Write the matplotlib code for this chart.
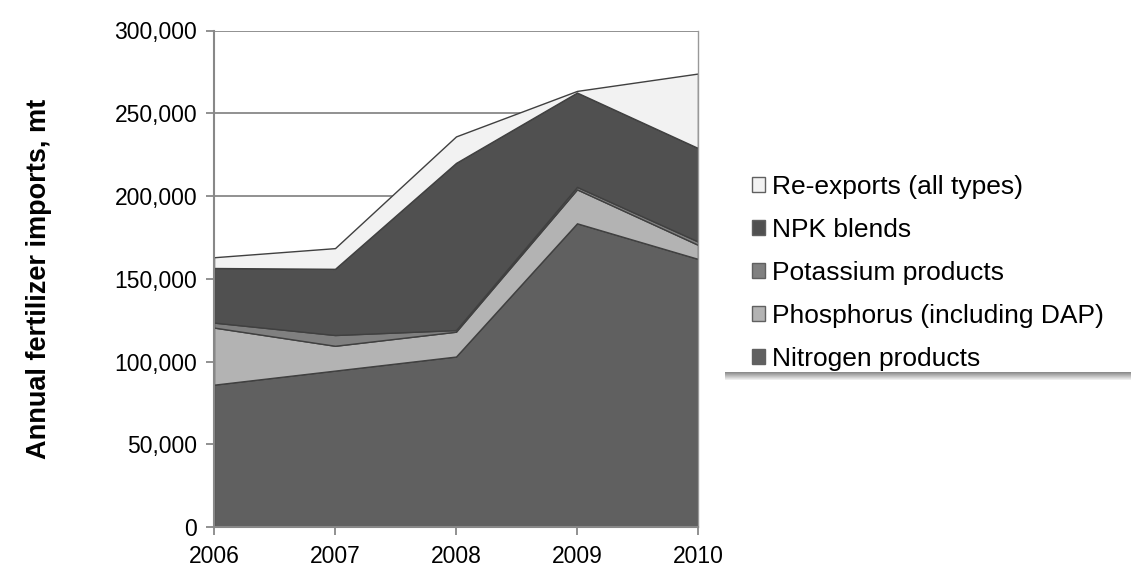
import matplotlib
matplotlib.use("Agg")
import matplotlib.pyplot as plt
from matplotlib.patches import Patch, Rectangle
from matplotlib.ticker import FuncFormatter

plt.rcParams['font.family'] = ['Liberation Sans', 'DejaVu Sans']

years = [2006, 2007, 2008, 2009, 2010]
nitrogen = [86000, 94500, 103000, 183500, 162000]
phosphorus = [34500, 15000, 15000, 20500, 8500]
potassium = [3000, 6500, 1000, 1500, 2000]
npk = [33000, 40000, 101000, 57000, 56500]
reexports = [6500, 12500, 16000, 1000, 45000]

labels = ['Nitrogen products', 'Phosphorus (including DAP)', 'Potassium products',
          'NPK blends', 'Re-exports (all types)']
colors = ['#606060', '#b3b3b3', '#808080', '#505050', '#f2f2f2']

W, H = 1131, 571
fig = plt.figure(figsize=(W / 100, H / 100), dpi=100)
ax = fig.add_axes([214 / W, 1 - 527 / H, (698 - 214) / W, (527 - 30.5) / H])

ax.stackplot(years, nitrogen, phosphorus, potassium, npk, reexports,
             colors=colors, edgecolor='#404040', linewidth=1.0, zorder=2)

ax.set_xlim(2006, 2010)
ax.set_ylim(0, 300000)
ax.set_xticks(years)
ax.set_yticks(range(0, 300001, 50000))
ax.yaxis.set_major_formatter(FuncFormatter(lambda v, p: f'{int(v):,}'))
ax.grid(axis='y', color='#888888', linewidth=1.3, zorder=0)
ax.set_axisbelow(True)

ax.spines['top'].set_visible(False)
ax.spines['right'].set_color('#999999')
ax.spines['right'].set_linewidth(1.0)
for side in ['left', 'bottom']:
    ax.spines[side].set_color('#888888')
    ax.spines[side].set_linewidth(1.5)
ax.tick_params(axis='both', direction='out', length=6, width=1.3, color='#888888',
               labelsize=16.5, labelcolor='black')
ax.tick_params(axis='x', pad=7)
ax.tick_params(axis='y', pad=6)

ax.set_ylabel('Annual fertilizer imports, mt', fontsize=19.5, fontweight='bold')
ax.yaxis.set_label_coords(-0.335, 0.5)

# legend box with soft shadow underneath
bx0, bx1 = 720 / W, 1.02
by_top, by_bot = 1 - 160 / H, 1 - 372 / H
for i in range(8):
    g = 0.55 + i * 0.055
    fig.patches.append(Rectangle((bx0 + 0.004, by_bot - (i + 1) / H), bx1 - bx0, 1 / H,
                                 transform=fig.transFigure, facecolor=(g, g, g),
                                 edgecolor='none', zorder=1))
fig.patches.append(Rectangle((bx0, by_bot), bx1 - bx0, by_top - by_bot,
                             transform=fig.transFigure, facecolor='white',
                             edgecolor='none', zorder=2))

handles = [Patch(facecolor=c, edgecolor='#606060', linewidth=1.0) for c in colors]
leg = fig.legend(handles[::-1], labels[::-1], loc='upper left',
                 bbox_to_anchor=(752 / W, 1 - 175 / H), frameon=False,
                 fontsize=19, handlelength=0.5, handleheight=0.5,
                 handletextpad=0.25, labelspacing=0.72, borderaxespad=0,
                 borderpad=0)
leg.set_zorder(3)

fig.savefig('out.png', dpi=100)
